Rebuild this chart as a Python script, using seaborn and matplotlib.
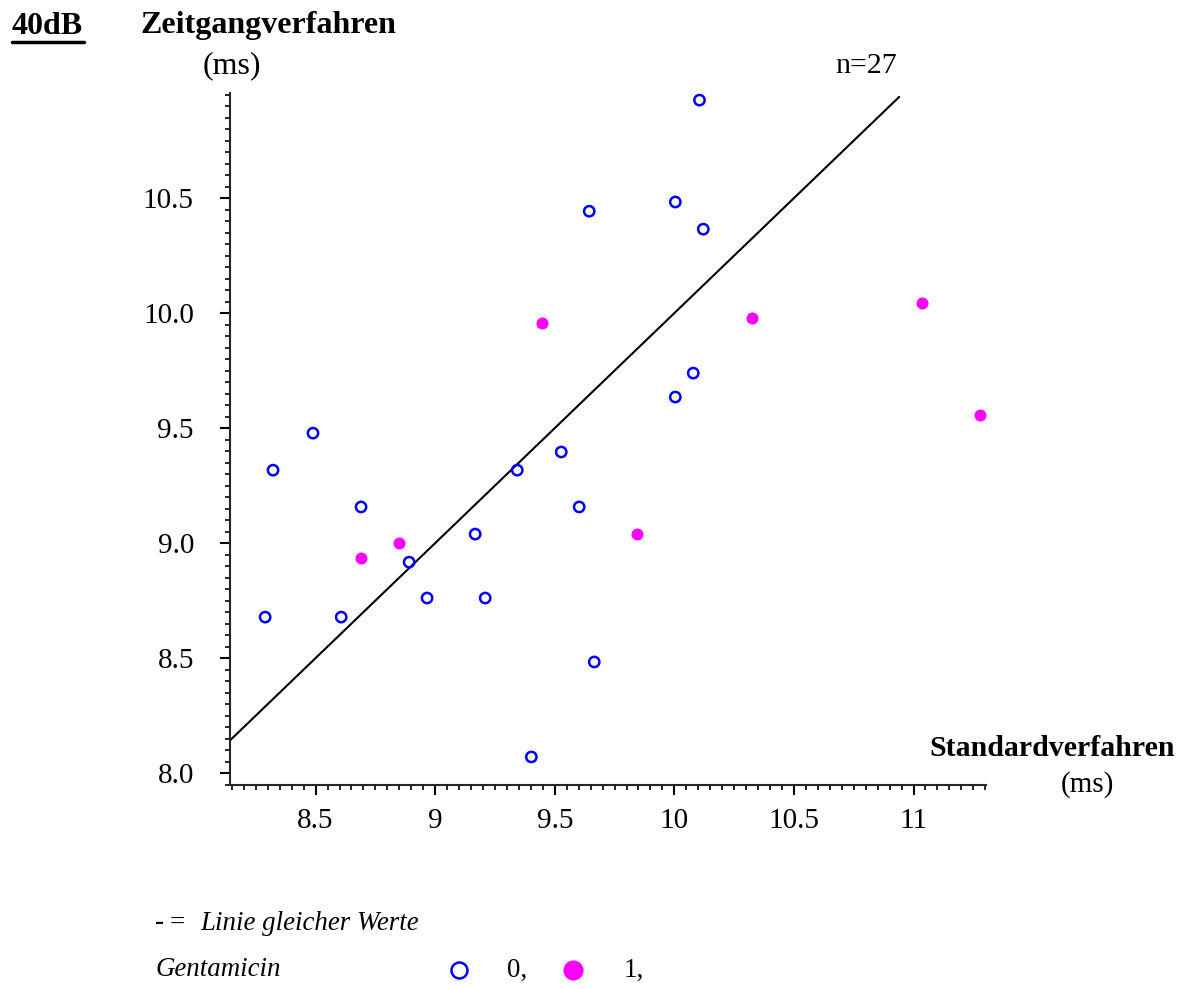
import matplotlib
matplotlib.use("Agg")
import matplotlib.pyplot as plt
from matplotlib.ticker import MultipleLocator, FixedLocator, FixedFormatter
from matplotlib.lines import Line2D
import seaborn as sns
import pandas as pd

# Gentamicin = 0 (open blue circles)
std_0 = [10.105, 9.644, 10.004, 10.121, 10.079, 10.004, 8.489, 8.322, 9.343, 9.527,
         8.690, 9.602, 9.167, 8.891, 8.966, 9.209, 8.289, 8.607, 9.665, 9.402]
zeit_0 = [10.926, 10.443, 10.483, 10.365, 9.739, 9.635, 9.478, 9.317, 9.317, 9.396,
          9.157, 9.157, 9.039, 8.917, 8.761, 8.761, 8.678, 8.678, 8.483, 8.070]

# Gentamicin = 1 (filled magenta circles)
std_1 = [9.445, 10.324, 11.036, 11.278, 9.845, 8.850, 8.690]
zeit_1 = [9.957, 9.978, 10.043, 9.557, 9.039, 9.000, 8.935]

x_ticks = [8.5, 9.0, 9.5, 10.0, 10.5, 11.0]
x_tick_labels = ["8.5", "9", "9.5", "10", "10.5", "11"]
y_ticks = [8.0, 8.5, 9.0, 9.5, 10.0, 10.5]
y_tick_labels = ["8.0", "8.5", "9.0", "9.5", "10.0", "10.5"]

df0 = pd.DataFrame({"std": std_0, "zeit": zeit_0})
df1 = pd.DataFrame({"std": std_1, "zeit": zeit_1})

sns.set_style("ticks")
plt.rcParams["font.family"] = ["Liberation Serif", "DejaVu Serif"]
plt.rcParams["text.color"] = "black"
plt.rcParams["xtick.color"] = "black"
plt.rcParams["ytick.color"] = "black"

W, H = 1187, 989
fig = plt.figure(figsize=(W / 100, H / 100), dpi=100)
ax = fig.add_axes([230 / W, 1 - 785 / H, (986 - 230) / W, (785 - 93) / H])

blue = "#0000ff"
magenta = "#ff00ff"

# line of equal values
ax.plot([8.142, 10.94], [8.142, 10.94], color="black", lw=1.5, zorder=1)

sns.scatterplot(data=df0, x="std", y="zeit", ax=ax, marker="o", s=55,
                facecolors="none", edgecolor=blue, linewidth=1.8, zorder=3)
sns.scatterplot(data=df1, x="std", y="zeit", ax=ax, marker="o", s=75,
                color=magenta, edgecolor=magenta, linewidth=0, zorder=3)

ax.set_xlim(8.142, 11.303)
ax.set_ylim(7.948, 10.957)
ax.set_xlabel("")
ax.set_ylabel("")

for side in ("top", "right"):
    ax.spines[side].set_visible(False)
for side in ("left", "bottom"):
    ax.spines[side].set_linewidth(1.5)

ax.xaxis.set_major_locator(FixedLocator(x_ticks))
ax.xaxis.set_major_formatter(FixedFormatter(x_tick_labels))
ax.xaxis.set_minor_locator(MultipleLocator(0.05))
ax.yaxis.set_major_locator(FixedLocator(y_ticks))
ax.yaxis.set_major_formatter(FixedFormatter(y_tick_labels))
ax.yaxis.set_minor_locator(MultipleLocator(0.05))

ax.tick_params(which="major", direction="out", length=7, width=1.5,
               labelsize=21, color="black", labelcolor="black")
ax.tick_params(which="minor", direction="out", length=3.6, width=1.2, color="black")
ax.tick_params(axis="y", which="major", pad=19)
ax.tick_params(axis="x", which="major", pad=9.5)

# titles and axis captions
fig.text(12 / W, 1 - 26 / H, "40dB", fontsize=23, fontweight="bold", va="center", ha="left")
fig.add_artist(Line2D([12 / W, 84 / W], [1 - 42 / H, 1 - 42 / H], color="black", lw=2.5))
fig.text(140 / W, 1 - 26 / H, "Zeitgangverfahren", fontsize=23, fontweight="bold",
         va="center", ha="left")
fig.text(232 / W, 1 - 66 / H, "(ms)", fontsize=23, va="center", ha="center")
fig.text(866 / W, 1 - 66 / H, "n=27", fontsize=21.5, va="center", ha="center")
fig.text(1175 / W, 1 - 749 / H, "Standardverfahren", fontsize=21.5, fontweight="bold",
         va="center", ha="right")
fig.text(1087 / W, 1 - 785 / H, "(ms)", fontsize=21, va="center", ha="center")

# key
fs_key = 19.4
fig.text(155 / W, 1 - 923 / H, "-", fontsize=fs_key, fontweight="bold", va="center", ha="left")
fig.text(170 / W, 1 - 923 / H, "=", fontsize=fs_key, va="center", ha="left")
fig.text(200 / W, 1 - 923 / H, "Linie gleicher Werte", fontsize=fs_key, style="italic",
         va="center", ha="left")
fig.text(156 / W, 1 - 970 / H, "Gentamicin", fontsize=fs_key, style="italic",
         va="center", ha="left")
fig.add_artist(Line2D([459 / W], [1 - 970 / H], marker="o", markersize=11.5,
                      markerfacecolor="none", markeredgecolor=blue, markeredgewidth=1.8,
                      linestyle="none"))
fig.text(507 / W, 1 - 970 / H, "0,", fontsize=fs_key, va="center", ha="left")
fig.add_artist(Line2D([573 / W], [1 - 970 / H], marker="o", markersize=13.5,
                      markerfacecolor=magenta, markeredgecolor=magenta,
                      linestyle="none"))
fig.text(624 / W, 1 - 970 / H, "1,", fontsize=fs_key, va="center", ha="left")

fig.savefig("out.png", dpi=100, facecolor="white")
